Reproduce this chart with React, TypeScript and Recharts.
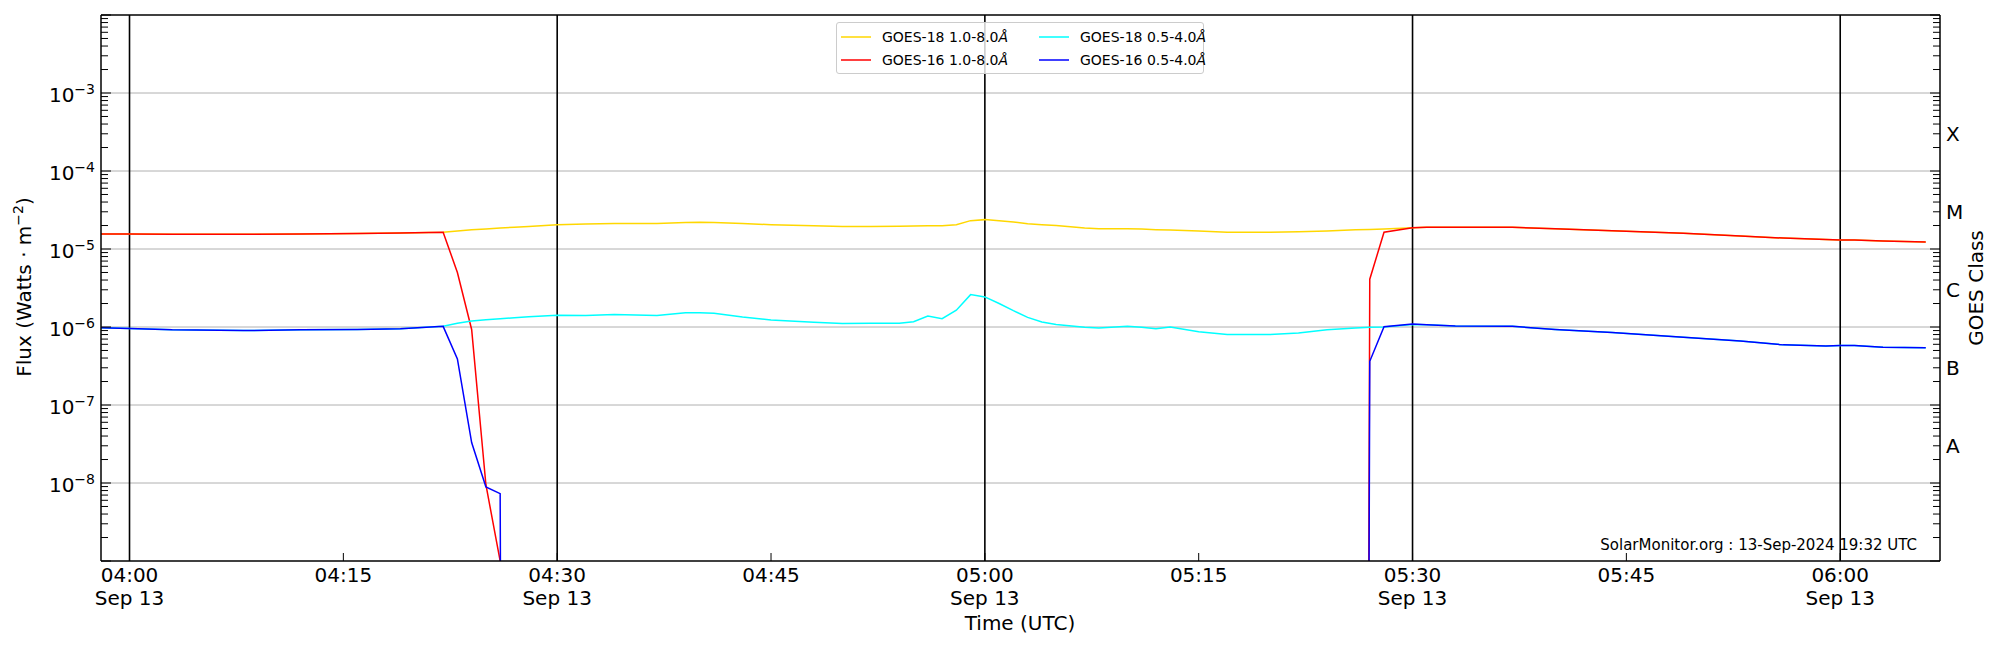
import React from 'react';
import {
  Customized,
  Legend,
  Line,
  LineChart,
  ReferenceLine,
  XAxis,
  YAxis,
} from 'recharts';

const FONT = "'DejaVu Sans', sans-serif";

// readings at (or next to) zero: they sit far below the log axis and get clipped
const FLOOR = 1e-60;

// minutes after 04:00 UTC, 13 Sep 2024
const minutes = [
  -2, 0, 3, 8, 12, 16, 19, 22, 23, 24, 25, 26, 27, 28, 30, 32, 34, 37, 39, 40,
  41, 43, 45, 48, 50, 52, 54, 55, 56, 57, 58, 59, 60, 61, 62, 63, 64, 65, 67,
  68, 70, 71, 72, 73, 75, 77, 80, 82, 84, 86, 87, 88, 90, 91, 93, 97, 100, 104,
  109, 113, 116, 119, 120, 121, 123, 126,
];

const goes18Long = [
  1.56e-5, 1.56e-5, 1.55e-5, 1.54e-5, 1.56e-5, 1.58e-5, 1.6e-5, 1.64e-5,
  1.7e-5, 1.76e-5, 1.81e-5, 1.86e-5, 1.9e-5, 1.94e-5, 2.04e-5, 2.09e-5,
  2.13e-5, 2.13e-5, 2.18e-5, 2.2e-5, 2.19e-5, 2.12e-5, 2.05e-5, 1.98e-5,
  1.95e-5, 1.95e-5, 1.96e-5, 1.97e-5, 1.98e-5, 1.99e-5, 2.05e-5, 2.31e-5,
  2.38e-5, 2.3e-5, 2.22e-5, 2.11e-5, 2.05e-5, 2.0e-5, 1.86e-5, 1.82e-5,
  1.82e-5, 1.8e-5, 1.77e-5, 1.75e-5, 1.7e-5, 1.64e-5, 1.64e-5, 1.66e-5,
  1.7e-5, 1.76e-5, 1.78e-5, 1.81e-5, 1.87e-5, 1.9e-5, 1.9e-5, 1.9e-5,
  1.82e-5, 1.72e-5, 1.59e-5, 1.47e-5, 1.38e-5, 1.32e-5, 1.3e-5, 1.3e-5,
  1.27e-5, 1.23e-5,
];

const goes16Long = [
  1.56e-5, 1.56e-5, 1.55e-5, 1.54e-5, 1.56e-5, 1.58e-5, 1.6e-5, 1.64e-5,
  5.0e-6, 9.3e-7, 9.5e-9, 1.0e-9, FLOOR,
  null, null, null, null, null, null, null, null, null, null, null, null,
  null, null, null, null, null, null, null, null, null, null, null, null,
  null, null, null, null, null, null, null, null, null, null, null, null,
  FLOOR, 4.1e-6, 1.64e-5, 1.87e-5, 1.9e-5, 1.9e-5, 1.9e-5,
  1.82e-5, 1.72e-5, 1.59e-5, 1.47e-5, 1.38e-5, 1.32e-5, 1.3e-5, 1.3e-5,
  1.27e-5, 1.23e-5,
];

const goes18Short = [
  9.8e-7, 9.6e-7, 9.2e-7, 9.0e-7, 9.2e-7, 9.3e-7, 9.5e-7, 1.02e-6,
  1.12e-6, 1.19e-6, 1.24e-6, 1.28e-6, 1.31e-6, 1.35e-6, 1.41e-6, 1.4e-6,
  1.45e-6, 1.4e-6, 1.52e-6, 1.52e-6, 1.5e-6, 1.34e-6, 1.23e-6, 1.15e-6,
  1.11e-6, 1.12e-6, 1.12e-6, 1.17e-6, 1.38e-6, 1.28e-6, 1.64e-6, 2.6e-6,
  2.43e-6, 2.0e-6, 1.62e-6, 1.33e-6, 1.16e-6, 1.08e-6, 9.9e-7, 9.7e-7,
  1.02e-6, 9.9e-7, 9.5e-7, 1.0e-6, 8.7e-7, 8.0e-7, 8.0e-7, 8.4e-7,
  9.2e-7, 9.7e-7, 9.9e-7, 1.0e-6, 1.08e-6, 1.07e-6, 1.03e-6, 1.02e-6,
  9.3e-7, 8.5e-7, 7.4e-7, 6.6e-7, 5.9e-7, 5.7e-7, 5.8e-7, 5.8e-7,
  5.5e-7, 5.4e-7,
];

const goes16Short = [
  9.8e-7, 9.6e-7, 9.2e-7, 9.0e-7, 9.2e-7, 9.3e-7, 9.5e-7, 1.02e-6,
  3.9e-7, 3.3e-8, 8.9e-9, 7.3e-9, FLOOR,
  null, null, null, null, null, null, null, null, null, null, null, null,
  null, null, null, null, null, null, null, null, null, null, null, null,
  null, null, null, null, null, null, null, null, null, null, null, null,
  FLOOR, 3.63e-7, 1.01e-6, 1.09e-6, 1.07e-6, 1.03e-6, 1.02e-6,
  9.3e-7, 8.5e-7, 7.4e-7, 6.6e-7, 5.9e-7, 5.7e-7, 5.8e-7, 5.8e-7,
  5.5e-7, 5.4e-7,
];

const timeTicks = [0, 15, 30, 45, 60, 75, 90, 105, 120];
const timeTickLabels = [
  '04:00\nSep 13', '04:15', '04:30\nSep 13', '04:45', '05:00\nSep 13',
  '05:15', '05:30\nSep 13', '05:45', '06:00\nSep 13',
];
const dayLines = [0, 30, 60, 90, 120];

const decadeExponents = [-9, -8, -7, -6, -5, -4, -3];
const labelledExponents = [-8, -7, -6, -5, -4, -3];
const gridExponents = [-8, -7, -6, -5, -4, -3];

const classTicks = [3e-8, 3e-7, 3e-6, 3e-5, 3e-4];
const classLabels = ['A', 'B', 'C', 'M', 'X'];

const legendItems = [
  { label: 'GOES-18 1.0-8.0', color: '#ffd700' },
  { label: 'GOES-16 1.0-8.0', color: '#ff0000' },
  { label: 'GOES-18 0.5-4.0', color: '#00ffff' },
  { label: 'GOES-16 0.5-4.0', color: '#0000ff' },
];

const fluxTicks: number[] = [];
decadeExponents.forEach((e) => {
  for (let m = 1; m <= 9; m++) fluxTicks.push(m * Math.pow(10, e));
});
fluxTicks.push(1e-2);

const rows = minutes.map((t, i) => ({
  t,
  g18Long: goes18Long[i],
  g16Long: goes16Long[i],
  g18Short: goes18Short[i],
  g16Short: goes16Short[i],
}));

function isDecade(v: number) {
  const e = Math.round(Math.log10(v));
  return Math.abs(v / Math.pow(10, e) - 1) < 1e-6;
}

function FluxTick({ x, y, payload }: any) {
  const v = payload.value;
  const major = isDecade(v);
  const e = Math.round(Math.log10(v));
  return (
    <g>
      <line x1={x} x2={x + (major ? 10 : 7)} y1={y} y2={y} stroke="#000" />
      {major && labelledExponents.includes(e) && (
        <text x={x - 6} y={y + 9} textAnchor="end" fontSize={20} fontFamily={FONT} fill="#000">
          10
          <tspan fontSize={14} dy={-8}>
            {'\u2212' + -e}
          </tspan>
        </text>
      )}
    </g>
  );
}

function ClassTick({ x, y, payload }: any) {
  const v = payload.value;
  const major = isDecade(v);
  const idx = classTicks.findIndex((c) => Math.abs(v / c - 1) < 1e-6);
  return (
    <g>
      <line x1={x} x2={x - (major ? 10 : 7)} y1={y} y2={y} stroke="#000" />
      {idx >= 0 && (
        <text x={x + 6} y={y + 7} fontSize={20} fontFamily={FONT} fill="#000">
          {classLabels[idx]}
        </text>
      )}
    </g>
  );
}

function TimeTick({ x, y, payload }: any) {
  const idx = timeTicks.indexOf(payload.value);
  const [first, second] = (timeTickLabels[idx] || '').split('\n');
  return (
    <g fontFamily={FONT} fontSize={20} fill="#000">
      <line x1={x} x2={x} y1={y} y2={y - 8} stroke="#000" />
      <text x={x} y={y + 21} textAnchor="middle">
        {first}
      </text>
      {second && (
        <text x={x} y={y + 44} textAnchor="middle">
          {second}
        </text>
      )}
    </g>
  );
}

function AxisTitles() {
  return (
    <g fontFamily={FONT} fill="#000">
      <text transform="translate(31, 287) rotate(-90)" textAnchor="middle" fontSize={20}>
        Flux (Watts · m
        <tspan fontSize={14} dy={-8}>
          {'\u22122'}
        </tspan>
        <tspan dy={8}>)</tspan>
      </text>
      <text transform="translate(1983, 288) rotate(-90)" textAnchor="middle" fontSize={20}>
        GOES Class
      </text>
      <text x={1020} y={630} textAnchor="middle" fontSize={20}>
        Time (UTC)
      </text>
      <text x={1917} y={550} textAnchor="end" fontSize={15}>
        SolarMonitor.org : 13-Sep-2024 19:32 UTC
      </text>
    </g>
  );
}

function GoesLegend() {
  return (
    <div
      style={{
        position: 'relative',
        width: 368,
        height: 52,
        boxSizing: 'border-box',
        border: '1px solid #cccccc',
        borderRadius: 3,
        background: 'rgba(255,255,255,0.8)',
        fontFamily: FONT,
        fontSize: 14,
        color: '#000',
      }}
    >
      {legendItems.map((item, i) => (
        <div
          key={item.label}
          style={{
            position: 'absolute',
            left: 4 + Math.floor(i / 2) * 198,
            top: 3 + (i % 2) * 23,
            height: 22,
            display: 'flex',
            alignItems: 'center',
          }}
        >
          <svg width={30} height={4} style={{ display: 'block' }}>
            <line x1={0} x2={30} y1={2} y2={2} stroke={item.color} strokeWidth={1.5} />
          </svg>
          <span style={{ marginLeft: 11, whiteSpace: 'nowrap' }}>
            {item.label}
            <i>Å</i>
          </span>
        </div>
      ))}
    </div>
  );
}

export default function App() {
  return (
    <div style={{ position: 'absolute', left: 0, top: 0, width: 2000, height: 650, background: '#fff' }}>
      <LineChart
        width={2000}
        height={650}
        data={rows}
        margin={{ top: 14, right: 59, bottom: 88, left: 100 }}
      >
        <XAxis
          dataKey="t"
          type="number"
          domain={[-2, 127]}
          allowDataOverflow
          ticks={timeTicks}
          interval={0}
          height={1}
          tickSize={0}
          tickMargin={0}
          tick={TimeTick}
          axisLine={{ stroke: '#000', strokeWidth: 1.5 }}
        />
        <XAxis
          xAxisId="top"
          orientation="top"
          type="number"
          domain={[-2, 127]}
          height={1}
          tick={false}
          tickLine={false}
          axisLine={{ stroke: '#000', strokeWidth: 1.5 }}
        />
        <YAxis
          type="number"
          scale="log"
          domain={[1e-9, 1e-2]}
          allowDataOverflow
          ticks={fluxTicks}
          interval={0}
          width={1}
          tickSize={0}
          tickMargin={0}
          tick={FluxTick}
          axisLine={{ stroke: '#000', strokeWidth: 1.5 }}
        />
        <YAxis
          yAxisId="class"
          orientation="right"
          type="number"
          scale="log"
          domain={[1e-9, 1e-2]}
          allowDataOverflow
          ticks={fluxTicks}
          interval={0}
          width={1}
          tickSize={0}
          tickMargin={0}
          tick={ClassTick}
          axisLine={{ stroke: '#000', strokeWidth: 1.5 }}
        />
        {gridExponents.map((e) => (
          <ReferenceLine key={'h' + e} y={Math.pow(10, e)} stroke="#b0b0b0" strokeWidth={1} />
        ))}
        {dayLines.map((m) => (
          <ReferenceLine key={'v' + m} x={m} stroke="#000" strokeWidth={1.6} />
        ))}
        <Line dataKey="g18Long" stroke="#ffd700" strokeWidth={1.5} dot={false} isAnimationActive={false} />
        <Line dataKey="g16Long" stroke="#ff0000" strokeWidth={1.5} dot={false} isAnimationActive={false} />
        <Line dataKey="g18Short" stroke="#00ffff" strokeWidth={1.5} dot={false} isAnimationActive={false} />
        <Line dataKey="g16Short" stroke="#0000ff" strokeWidth={1.5} dot={false} isAnimationActive={false} />
        <Legend
          layout="horizontal"
          verticalAlign="middle"
          align="center"
          content={GoesLegend}
          wrapperStyle={{ left: 836, top: 22, width: 368, height: 52 }}
        />
        <Customized component={AxisTitles} />
      </LineChart>
    </div>
  );
}
